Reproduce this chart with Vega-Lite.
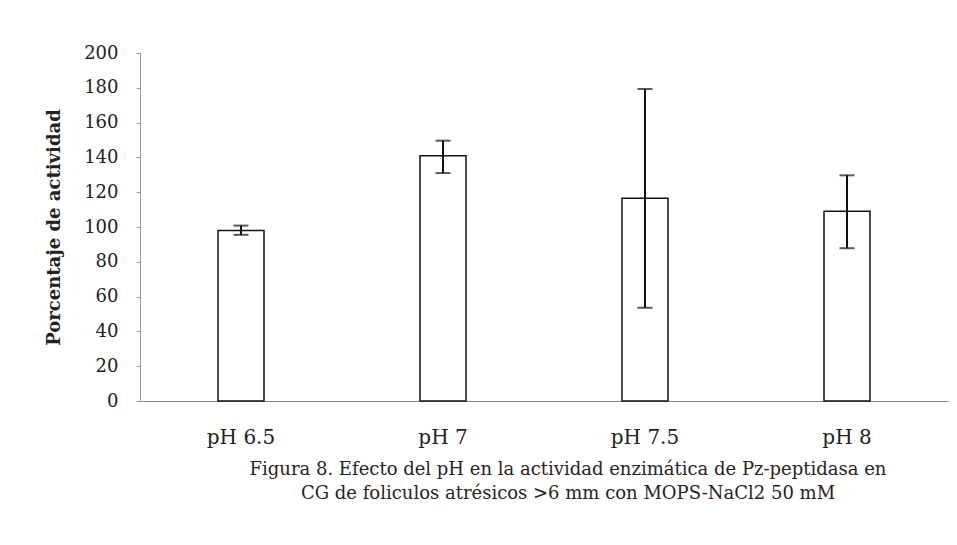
{
  "$schema": "https://vega.github.io/schema/vega-lite/v6.json",
  "autosize": {"type": "none"},
  "width": 808,
  "height": 348,
  "padding": {"left": 140, "top": 53, "right": 9, "bottom": 144},
  "background": "white",
  "config": {
    "view": {"stroke": null},
    "axisY": {
      "titleFont": "DejaVu Serif", "titleFontSize": 18, "titleFontWeight": "bold", "titleColor": "#222",
      "titlePadding": 20, "labelOverlap": false,
      "grid": false, "tickSize": 4, "tickColor": "#999", "domainColor": "#999",
      "labelPadding": 18, "labelFont": "DejaVu Serif", "labelFontSize": 18, "labelColor": "#222"
    }
  },
  "data": {"values": [
    {"ph": "pH 6.5", "actividad": 98, "lo": 95.5, "hi": 100.8},
    {"ph": "pH 7", "actividad": 141, "lo": 131, "hi": 149.6},
    {"ph": "pH 7.5", "actividad": 116.5, "lo": 53.6, "hi": 179.3},
    {"ph": "pH 8", "actividad": 109, "lo": 87.8, "hi": 129.7}
  ]},
  "title": {
    "text": ["Figura 8. Efecto del pH en la actividad enzimática de Pz-peptidasa en", "CG de foliculos atrésicos >6 mm con MOPS-NaCl2 50 mM"],
    "orient": "bottom",
    "anchor": "middle",
    "dx": 24,
    "offset": 14,
    "font": "DejaVu Serif",
    "fontSize": 18,
    "fontWeight": "normal",
    "lineHeight": 24,
    "color": "#2a2222"
  },
  "encoding": {
    "x": {
      "field": "ph", "type": "nominal", "sort": null,
      "scale": {"paddingInner": 0, "paddingOuter": 0},
      "axis": {
        "title": null, "labelAngle": 0, "ticks": false, "labelPadding": 26,
        "labelFont": "DejaVu Serif", "labelFontSize": 20, "labelColor": "#222",
        "domainColor": "#888", "domainWidth": 1
      }
    }
  },
  "layer": [
    {
      "mark": {"type": "bar", "size": 46, "fill": "white", "stroke": "#111", "strokeWidth": 1.5},
      "encoding": {
        "y": {
          "field": "actividad", "type": "quantitative",
          "scale": {"domain": [0, 200]},
          "axis": {"title": "Porcentaje de actividad", "values": [0, 20, 40, 60, 80, 100, 120, 140, 160, 180, 200]}
        }
      }
    },
    {
      "mark": {"type": "rule", "color": "#111", "strokeWidth": 2},
      "encoding": {
        "y": {"field": "lo", "type": "quantitative", "axis": {"title": "Porcentaje de actividad", "values": [0, 20, 40, 60, 80, 100, 120, 140, 160, 180, 200]}},
        "y2": {"field": "hi"}
      }
    },
    {
      "mark": {"type": "tick", "color": "#111", "size": 15, "thickness": 2, "orient": "horizontal"},
      "encoding": {"y": {"field": "lo", "type": "quantitative", "axis": {"title": "Porcentaje de actividad", "values": [0, 20, 40, 60, 80, 100, 120, 140, 160, 180, 200]}}}
    },
    {
      "mark": {"type": "tick", "color": "#111", "size": 15, "thickness": 2, "orient": "horizontal"},
      "encoding": {"y": {"field": "hi", "type": "quantitative", "axis": {"title": "Porcentaje de actividad", "values": [0, 20, 40, 60, 80, 100, 120, 140, 160, 180, 200]}}}
    }
  ]
}
